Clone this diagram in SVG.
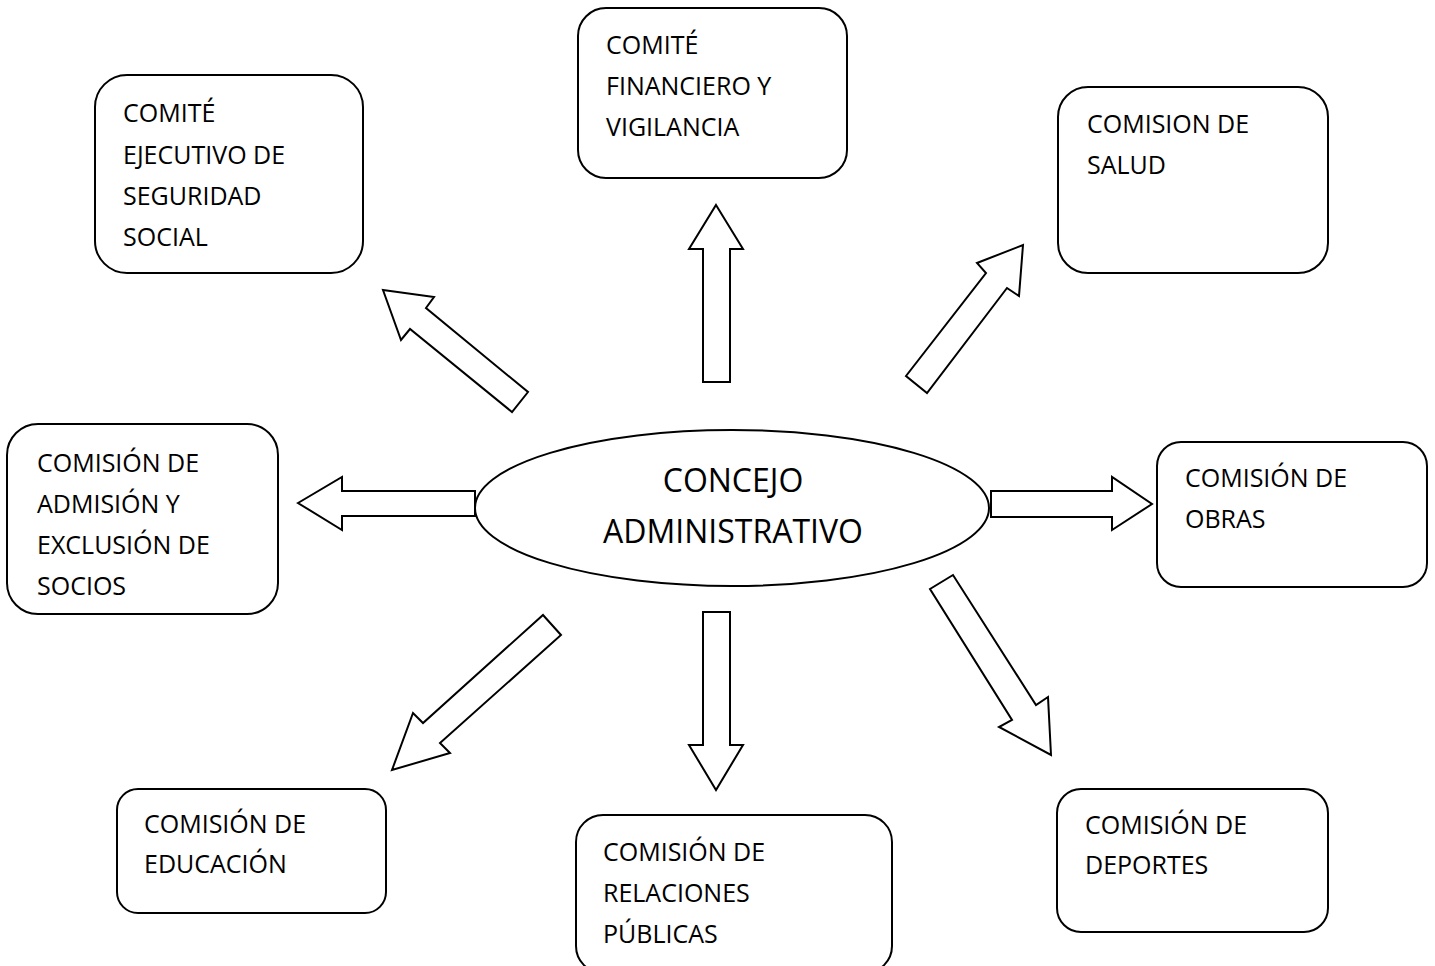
<svg xmlns="http://www.w3.org/2000/svg" width="1435" height="966" viewBox="0 0 1435 966">
<style>
.box{fill:#fff;stroke:#000;stroke-width:2}
.arr{fill:#fff;stroke:#000;stroke-width:2;stroke-linejoin:miter}
.t{font-family:"Open Sans","Liberation Sans",sans-serif;font-size:25px;fill:#000}
.c{font-family:"Open Sans","Liberation Sans",sans-serif;font-size:32px;fill:#000;text-anchor:middle}
</style>
<rect width="1435" height="966" fill="#fff"/>
<g id="connectors">
<polygon class="arr" points="383,290 434,297 426,308 528,392 512,412 410,329 401,340"/>
<polygon class="arr" points="716,205 743,249 730,249 730,382 703,382 703,249 689,249"/>
<polygon class="arr" points="1023,245 1019,296 1007,288 927,393 906,376 986,273 977,263"/>
<polygon class="arr" points="298,503 342,477 342,491 475,491 475,516 342,516 342,530"/>
<polygon class="arr" points="991,491 1112,491 1112,477 1152,504 1112,530 1112,517 991,517"/>
<polygon class="arr" points="543,615 561,635 440,743 450,753 392,770 413,713 423,723"/>
<polygon class="arr" points="703,612 730,612 730,745 743,745 716,790 689,745 703,745"/>
<polygon class="arr" points="953,575 930,589 1012,720 999,727 1051,755 1048,697 1036,705"/>
</g>
<g id="center">
<ellipse class="box" cx="732" cy="508" rx="257" ry="78"/>
<text class="c" x="733" y="492">CONCEJO</text>
<text class="c" x="733" y="543">ADMINISTRATIVO</text>
</g>
<g id="n1">
<rect class="box" x="95" y="75" width="268" height="198" rx="32"/>
<text class="t" x="123" y="122">COMITÉ</text>
<text class="t" x="123" y="164">EJECUTIVO DE</text>
<text class="t" x="123" y="205">SEGURIDAD</text>
<text class="t" x="123" y="246">SOCIAL</text>
</g>
<g id="n2">
<rect class="box" x="578" y="8" width="269" height="170" rx="28"/>
<text class="t" x="606" y="54">COMITÉ</text>
<text class="t" x="606" y="95">FINANCIERO Y</text>
<text class="t" x="606" y="136">VIGILANCIA</text>
</g>
<g id="n3">
<rect class="box" x="1058" y="87" width="270" height="186" rx="30"/>
<text class="t" x="1087" y="133">COMISION DE</text>
<text class="t" x="1087" y="174">SALUD</text>
</g>
<g id="n4">
<rect class="box" x="7" y="424" width="271" height="190" rx="31"/>
<text class="t" x="37" y="472">COMISIÓN DE</text>
<text class="t" x="37" y="513">ADMISIÓN Y</text>
<text class="t" x="37" y="554">EXCLUSIÓN DE</text>
<text class="t" x="37" y="595">SOCIOS</text>
</g>
<g id="n5">
<rect class="box" x="1157" y="442" width="270" height="145" rx="24"/>
<text class="t" x="1185" y="487">COMISIÓN DE</text>
<text class="t" x="1185" y="528">OBRAS</text>
</g>
<g id="n6">
<rect class="box" x="117" y="789" width="269" height="124" rx="21"/>
<text class="t" x="144" y="833">COMISIÓN DE</text>
<text class="t" x="144" y="873">EDUCACIÓN</text>
</g>
<g id="n7">
<rect class="box" x="576" y="815" width="316" height="158" rx="27"/>
<text class="t" x="603" y="861">COMISIÓN DE</text>
<text class="t" x="603" y="902">RELACIONES</text>
<text class="t" x="603" y="943">PÚBLICAS</text>
</g>
<g id="n8">
<rect class="box" x="1057" y="789" width="271" height="143" rx="24"/>
<text class="t" x="1085" y="834">COMISIÓN DE</text>
<text class="t" x="1085" y="874">DEPORTES</text>
</g>
</svg>
